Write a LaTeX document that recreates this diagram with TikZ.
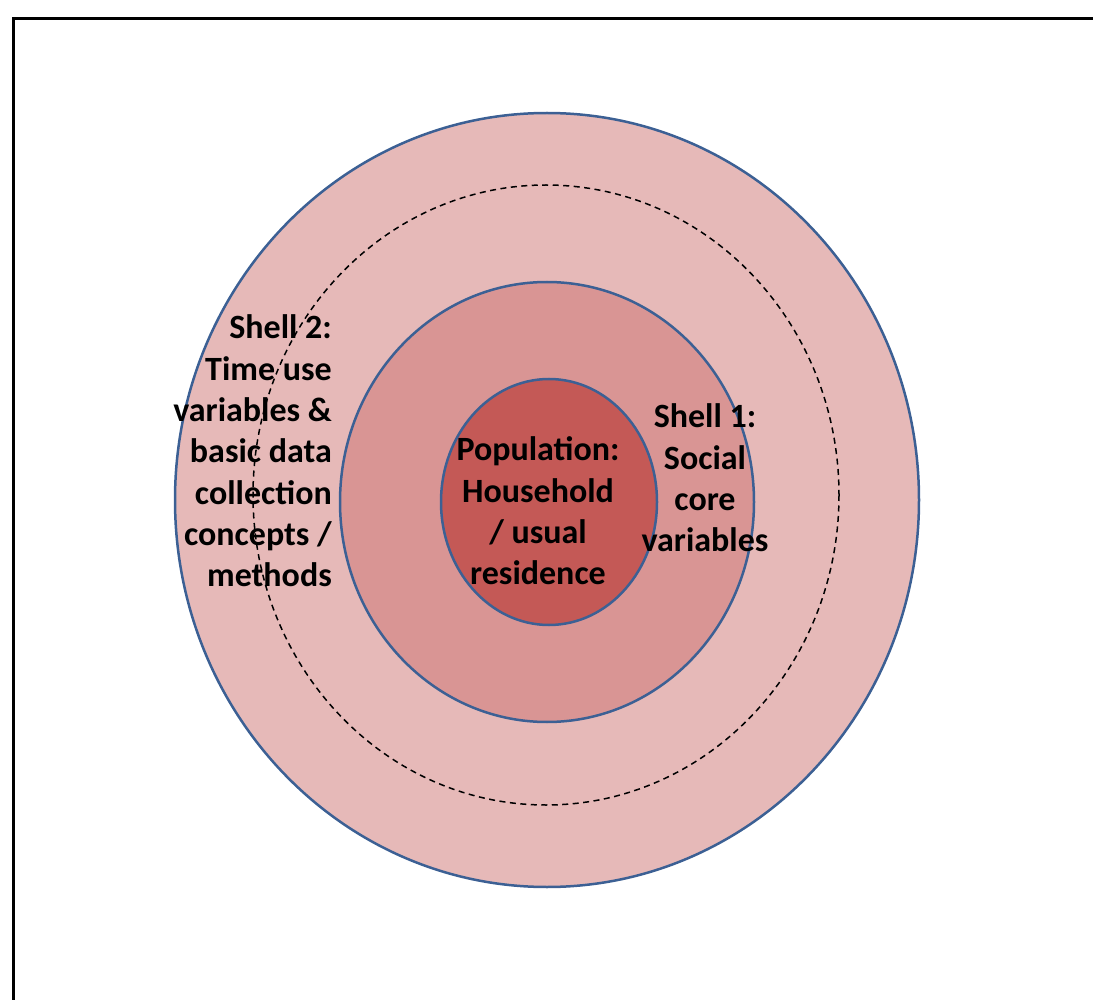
\documentclass[tikz,border=0pt]{standalone}
\usepackage{fontspec}
\setmainfont{Carlito}
\definecolor{outerfill}{RGB}{230,185,184}
\definecolor{midfill}{RGB}{217,149,148}
\definecolor{innerfill}{RGB}{196,89,86}
\definecolor{rimblue}{RGB}{60,96,148}
\tikzset{
  ring/.style={draw=rimblue, line width=2.5pt},
  lbl/.style={font=\fontsize{34}{41.3}\selectfont\bfseries, inner sep=0pt, text=black},
}
\begin{document}
\begin{tikzpicture}[x=1pt,y=-1pt]
\useasboundingbox (0,0) rectangle (1093,1000);
\draw[line width=3pt] (13.5,1010) -- (13.5,18.5) -- (1100,18.5);
\path[ring, fill=outerfill] (547,500) ellipse [x radius=372, y radius=387];
\draw[dashed, line width=1.5pt, dash pattern=on 6pt off 4.5pt] (546,495) ellipse [x radius=293, y radius=310];
\path[ring, fill=midfill] (547,502) ellipse [x radius=207, y radius=220];
\path[ring, fill=innerfill] (549,502) ellipse [x radius=108, y radius=123];
\node[lbl, align=right, anchor=east] (s2) at (332,451) {Shell 2:\\Time use\\variables \&\\basic data\\collection\\concepts /\\methods};
\node[lbl, align=center] (pop) at (538,511) {Population:\\Household\\/ usual\\residence};
\node[lbl, align=center] (s1) at (705,478) {Shell 1:\\Social\\core\\variables};
\end{tikzpicture}
\end{document}
